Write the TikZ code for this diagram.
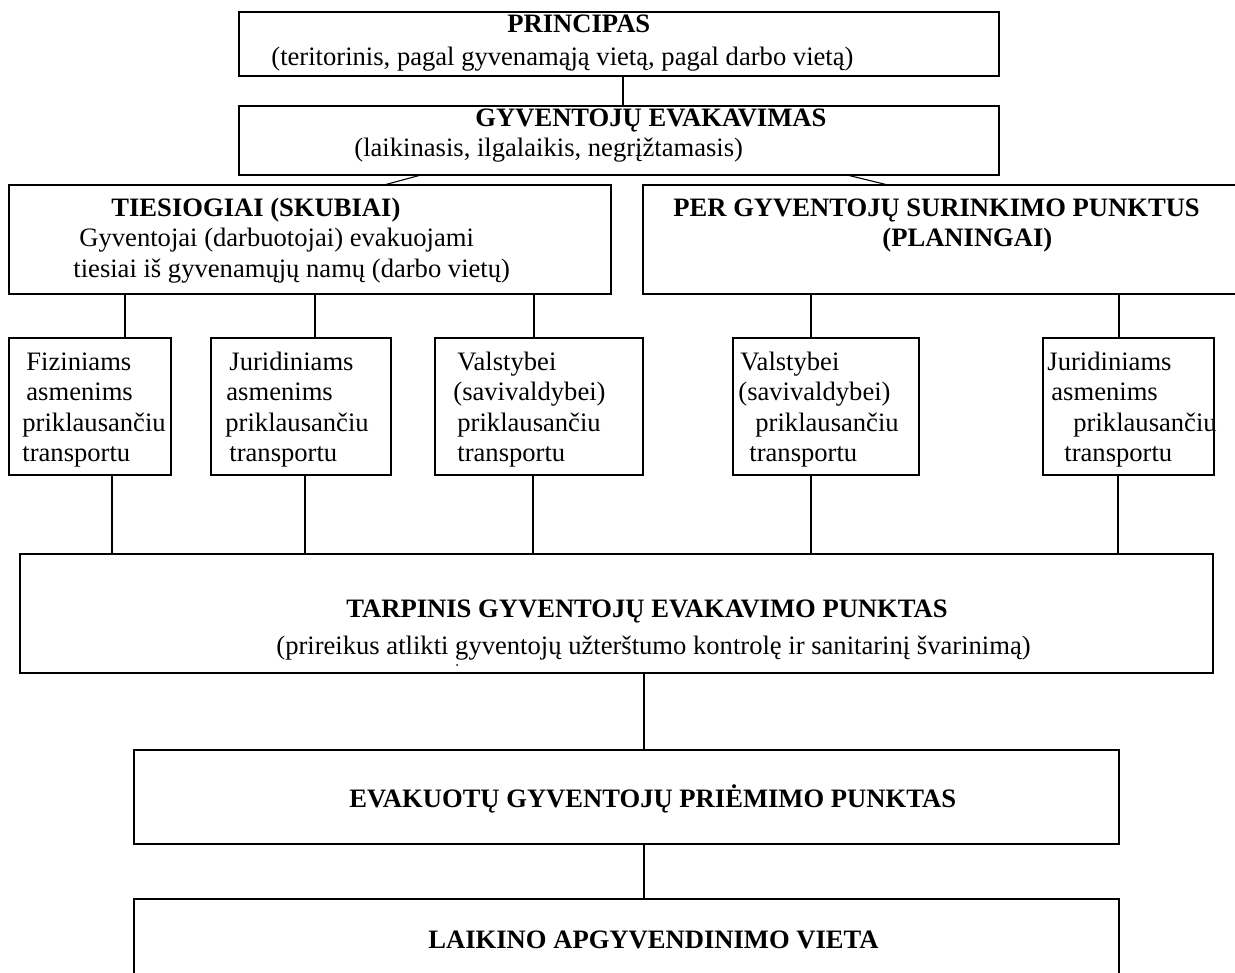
\documentclass[tikz,border=0pt]{standalone}
\usepackage{fontspec}
\setmainfont{Liberation Serif}
\begin{document}
\begin{tikzpicture}[x=0.5pt,y=-0.5pt,
  box/.style={draw, line width=0.8pt, rectangle, inner sep=0pt, outer sep=0pt, anchor=north west},
  link/.style={line width=0.55pt},
  txt/.style={anchor=base west, inner sep=0pt, font=\fontsize{13.3}{15}\selectfont},
  btxt/.style={anchor=base west, inner sep=0pt, font=\fontsize{13.3}{15}\selectfont\bfseries}]
\clip (0,0) rectangle (1235,973);
% boxes
\node[box, minimum width=760*0.5pt, minimum height=64*0.5pt] (pr) at (239,12) {};
\node[box, minimum width=760*0.5pt, minimum height=69*0.5pt] (ge) at (239,106) {};
\node[box, minimum width=602*0.5pt, minimum height=109*0.5pt] (ti) at (9,185) {};
\node[box, minimum width=620*0.5pt, minimum height=109*0.5pt] (per) at (643,185) {};
\node[box, minimum width=162*0.5pt, minimum height=137*0.5pt] (s1) at (9,338) {};
\node[box, minimum width=180*0.5pt, minimum height=137*0.5pt] (s2) at (211,338) {};
\node[box, minimum width=208*0.5pt, minimum height=137*0.5pt] (s3) at (435,338) {};
\node[box, minimum width=186*0.5pt, minimum height=137*0.5pt] (s4) at (733,338) {};
\node[box, minimum width=171*0.5pt, minimum height=137*0.5pt] (s5) at (1043,338) {};
\node[box, minimum width=1193*0.5pt, minimum height=119*0.5pt] (ta) at (20,554) {};
\node[box, minimum width=985*0.5pt, minimum height=94*0.5pt] (ev) at (134,750) {};
\node[box, minimum width=985*0.5pt, minimum height=120*0.5pt] (la) at (134,899) {};
% connectors
\draw[link] (623,0 |- pr.south) -- (623,0 |- ge.north);
\draw[link] (421,0 |- ge.south) -- (384,0 |- ti.north);
\draw[link] (847,0 |- ge.south) -- (888,0 |- per.north);
\draw[link] (125,0 |- ti.south) -- (125,0 |- s1.north);
\draw[link] (315,0 |- ti.south) -- (315,0 |- s2.north);
\draw[link] (534,0 |- ti.south) -- (534,0 |- s3.north);
\draw[link] (811,0 |- per.south) -- (811,0 |- s4.north);
\draw[link] (1119,0 |- per.south) -- (1119,0 |- s5.north);
\draw[link] (112,0 |- s1.south) -- (112,0 |- ta.north);
\draw[link] (305,0 |- s2.south) -- (305,0 |- ta.north);
\draw[link] (533,0 |- s3.south) -- (533,0 |- ta.north);
\draw[link] (811,0 |- s4.south) -- (811,0 |- ta.north);
\draw[link] (1118,0 |- s5.south) -- (1118,0 |- ta.north);
\draw[link] (644,0 |- ta.south) -- (644,0 |- ev.north);
\draw[link] (644,0 |- ev.south) -- (644,0 |- la.north);
% texts
\node[btxt] (prA) at (507,33) {PRINCIPAS};
\node[txt] (prB) at (271,66) {(teritorinis, pagal gyvenamąją vietą, pagal darbo vietą)};
\node[btxt] (geA) at (475,127) {GYVENTOJŲ EVAKAVIMAS};
\node[txt] (geB) at (354,157) {(laikinasis, ilgalaikis, negrįžtamasis)};
\node[btxt] (tiA) at (111,217) {TIESIOGIAI (SKUBIAI)};
\node[txt] (tiB) at (79,247) {Gyventojai (darbuotojai) evakuojami};
\node[txt] (tiC) at (73,277) {tiesiai iš gyvenamųjų namų (darbo vietų)};
\node[btxt] (peA) at (673,217) {PER GYVENTOJŲ SURINKIMO PUNKTUS};
\node[btxt] (peB) at (882,247) {(PLANINGAI)};
% small boxes
\node[txt] (a1) at (26,370) {Fiziniams};
\node[txt] (a2) at (26,400) {asmenims};
\node[txt] (a3) at (22,431) {priklausančiu};
\node[txt] (a4) at (22,461) {transportu};
\node[txt] (b1) at (229,370) {Juridiniams};
\node[txt] (b2) at (226,400) {asmenims};
\node[txt] (b3) at (225,431) {priklausančiu};
\node[txt] (b4) at (229,461) {transportu};
\node[txt] (c1) at (457,370) {Valstybei};
\node[txt] (c2) at (453,400) {(savivaldybei)};
\node[txt] (c3) at (457,431) {priklausančiu};
\node[txt] (c4) at (457,461) {transportu};
\node[txt] (d1) at (740,370) {Valstybei};
\node[txt] (d2) at (738,400) {(savivaldybei)};
\node[txt] (d3) at (755,431) {priklausančiu};
\node[txt] (d4) at (749,461) {transportu};
\node[txt] (e1) at (1047,370) {Juridiniams};
\node[txt] (e2) at (1051,400) {asmenims};
\node[txt] (e3) at (1073,431) {priklausančiu};
\node[txt] (e4) at (1064,461) {transportu};
% lower boxes
\node[btxt] (taA) at (346,617) {TARPINIS GYVENTOJŲ EVAKAVIMO PUNKTAS};
\node[txt] (taB) at (276,654) {(prireikus atlikti gyventojų užterštumo kontrolę ir sanitarinį švarinimą)};
\fill (457,665) circle[radius=0.5pt];
\node[btxt] (evA) at (349,807) {EVAKUOTŲ GYVENTOJŲ PRIĖMIMO PUNKTAS};
\node[btxt] (laA) at (428,948) {LAIKINO APGYVENDINIMO VIETA};
\end{tikzpicture}
\end{document}
